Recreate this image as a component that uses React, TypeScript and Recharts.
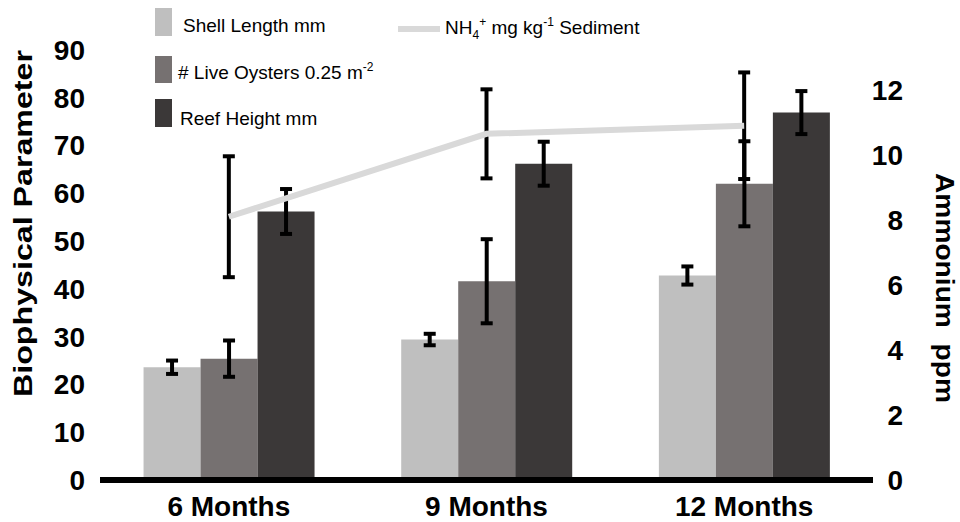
import React from 'react';
import { ComposedChart, Bar, Line, XAxis, YAxis, ErrorBar, Legend, Label } from 'recharts';

const categories = ['6 Months', '9 Months', '12 Months'];
const shellLength = [23.6, 29.4, 42.8];
const shellLengthErr = [1.4, 1.2, 1.9];
const liveOysters = [25.4, 41.6, 62.0];
const liveOystersErr = [3.8, 8.8, 8.9];
const reefHeight = [56.2, 66.2, 76.9];
const reefHeightErr = [4.7, 4.6, 4.5];
const ammonium = [8.1, 10.65, 10.9];
const ammoniumErr = [1.86, 1.37, 1.64];
const leftTicks = [0, 10, 20, 30, 40, 50, 60, 70, 80, 90];
const rightTicks = [0, 2, 4, 6, 8, 10, 12];
const seriesNames = ['Shell Length mm', '# Live Oysters 0.25 m', 'Reef Height mm', 'NH4+ mg kg-1 Sediment'];
const leftTitle = 'Biophysical Parameter';
const rightTitle = 'Ammonium  ppm';

const COLORS = { light: '#bfbfbf', mid: '#767171', dark: '#3b3838', line: '#d9d9d9' };
const FONT = '"Liberation Sans", Arial, Helvetica, sans-serif';

const data = categories.map((c, i) => ({
  category: c,
  shell: shellLength[i],
  shellErr: shellLengthErr[i],
  oysters: liveOysters[i],
  oystersErr: liveOystersErr[i],
  reef: reefHeight[i],
  reefErr: reefHeightErr[i],
  nh4: ammonium[i],
  nh4Err: ammoniumErr[i],
}));

const renderLegend = () => (
  <svg width={960} height={140} style={{ display: 'block', fontFamily: FONT }}>
    <rect x={155} y={8} width={17} height={28} fill={COLORS.light} />
    <text x={183} y={32} fontSize={19} fill="#000">{seriesNames[0]}</text>
    <rect x={155} y={56} width={17} height={27} fill={COLORS.mid} />
    <text x={178} y={79} fontSize={19} fill="#000">
      {seriesNames[1]}
      <tspan fontSize={12} dy={-8}>-2</tspan>
    </text>
    <rect x={155} y={99} width={17} height={28} fill={COLORS.dark} />
    <text x={180} y={125} fontSize={19} fill="#000">{seriesNames[2]}</text>
    <line x1={398} x2={440} y1={29} y2={29} stroke={COLORS.line} strokeWidth={6} />
    <text x={445} y={34} fontSize={19} fill="#000">
      NH
      <tspan fontSize={12} dy={5}>4</tspan>
      <tspan fontSize={12} dy={-13}>+</tspan>
      <tspan dy={8}> mg kg</tspan>
      <tspan fontSize={12} dy={-8}>-1</tspan>
      <tspan dy={8}> Sediment</tspan>
    </text>
  </svg>
);

const RightTick = (props: any) => {
  const { x, y, payload } = props;
  return (
    <text x={x + 30} y={y} dy={10} textAnchor="end" fontSize={28} fontWeight="bold" fill="#000" fontFamily={FONT}>
      {payload.value}
    </text>
  );
};

export default function App() {
  return (
    <div style={{ position: 'absolute', left: 0, top: 0, background: '#fff' }}>
      <ComposedChart
        width={960}
        height={522}
        data={data}
        margin={{ top: 50, right: 0, bottom: 0, left: 0 }}
        barCategoryGap="16.9%"
        barGap={0}
        style={{ fontFamily: FONT }}
      >
        <XAxis
          dataKey="category"
          height={42}
          axisLine={{ stroke: '#000', strokeWidth: 6 }}
          tickLine={false}
          tickSize={0}
          tickMargin={16}
          tick={{ fontSize: 28, fontWeight: 'bold', fill: '#000', fontFamily: FONT }}
        />
        <YAxis
          yAxisId="left"
          width={100}
          domain={[0, 90]}
          ticks={leftTicks}
          axisLine={false}
          tickLine={false}
          tickSize={0}
          tickMargin={15}
          tick={{ fontSize: 28, fontWeight: 'bold', fill: '#000', fontFamily: FONT }}
        >
          <Label
            content={() => (
              <text
                x={31.5}
                y={223.5}
                transform="rotate(-90, 31.5, 223.5)"
                textAnchor="middle"
                fontSize={26}
                fontWeight="bold"
                fill="#000"
                fontFamily={FONT}
                textLength={347}
                lengthAdjust="spacingAndGlyphs"
              >
                {leftTitle}
              </text>
            )}
          />
        </YAxis>
        <YAxis
          yAxisId="right"
          orientation="right"
          width={87}
          domain={[0, 13.23]}
          ticks={rightTicks}
          axisLine={false}
          tickLine={false}
          tickSize={0}
          tickMargin={0}
          tick={<RightTick />}
        >
          <Label
            content={() => (
              <text
                x={935.5}
                y={288}
                transform="rotate(90, 935.5, 288)"
                textAnchor="middle"
                fontSize={26}
                fontWeight="bold"
                fill="#000"
                fontFamily={FONT}
                textLength={230}
                lengthAdjust="spacingAndGlyphs"
                style={{ whiteSpace: 'pre' }}
              >
                {rightTitle}
              </text>
            )}
          />
        </YAxis>
        <Legend
          layout="horizontal"
          verticalAlign="middle"
          align="center"
          content={renderLegend}
          wrapperStyle={{ position: 'absolute', top: 0, left: 0, width: 960, height: 140 }}
        />
        <Bar yAxisId="left" dataKey="shell" name={seriesNames[0]} fill={COLORS.light} isAnimationActive={false}>
          <ErrorBar dataKey="shellErr" width={6} stroke="#000" strokeWidth={4} direction="y" />
        </Bar>
        <Bar yAxisId="left" dataKey="oysters" name={seriesNames[1]} fill={COLORS.mid} isAnimationActive={false}>
          <ErrorBar dataKey="oystersErr" width={6} stroke="#000" strokeWidth={4} direction="y" />
        </Bar>
        <Bar yAxisId="left" dataKey="reef" name={seriesNames[2]} fill={COLORS.dark} isAnimationActive={false}>
          <ErrorBar dataKey="reefErr" width={6} stroke="#000" strokeWidth={4} direction="y" />
        </Bar>
        <Line
          yAxisId="right"
          type="linear"
          dataKey="nh4"
          name={seriesNames[3]}
          stroke={COLORS.line}
          strokeWidth={6}
          dot={false}
          activeDot={false}
          isAnimationActive={false}
        >
          <ErrorBar dataKey="nh4Err" width={6} stroke="#000" strokeWidth={4} direction="y" />
        </Line>
      </ComposedChart>
    </div>
  );
}
